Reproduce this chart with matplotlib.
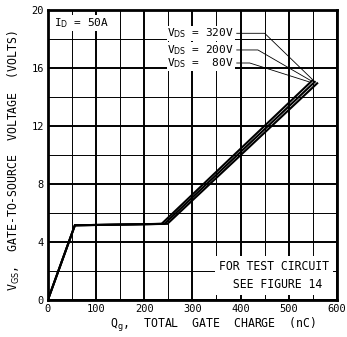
import matplotlib
matplotlib.use("Agg")
import matplotlib.pyplot as plt
from matplotlib.ticker import MultipleLocator

plt.rcParams['font.family'] = ['DejaVu Sans Mono']

# gate charge curves
vds_labels = ["320V", "200V", " 80V"]
qg_80 = [0, 56, 236, 549]
vgs_80 = [0, 5.15, 5.25, 15.15]
qg_200 = [0, 56, 242, 554]
vgs_200 = [0, 5.15, 5.25, 15.05]
qg_320 = [0, 56, 248, 559]
vgs_320 = [0, 5.15, 5.25, 14.95]

x_ticks = [0, 100, 200, 300, 400, 500, 600]
y_ticks = [0, 4, 8, 12, 16, 20]

fig = plt.figure(figsize=(3.47, 3.37), dpi=100)
ax = fig.add_axes([0.138, 0.110, 0.833, 0.860])
ax.set_xlim(0, 600)
ax.set_ylim(0, 20)

ax.set_xticks(x_ticks)
ax.set_yticks(y_ticks)
ax.xaxis.set_minor_locator(MultipleLocator(50))
ax.yaxis.set_minor_locator(MultipleLocator(2))
ax.tick_params(which='both', length=0, labelsize=7.5, pad=3)
ax.grid(which='major', color='black', lw=1.4)
ax.grid(which='minor', color='black', lw=0.7)
ax.set_axisbelow(True)
for s in ax.spines.values():
    s.set_linewidth(2)

for q, v in [(qg_80, vgs_80), (qg_200, vgs_200), (qg_320, vgs_320)]:
    ax.plot(q, v, color='black', lw=1.5, solid_joinstyle='miter', zorder=3)

ax.text(12, 19.6, "I$_\\mathrm{D}$ = 50A", fontsize=8, va='top', ha='left',
        bbox=dict(facecolor='white', edgecolor='none', pad=1))

# V_DS labels with leader lines to the curve ends
label_y = [18.4, 17.25, 16.35]
knee_x = [450, 436, 419]
tip = [(548, 15.25), (545, 15.15), (542, 15.05)]
for lab, yy, kx, (tx, ty) in zip(vds_labels, label_y, knee_x, tip):
    ax.text(386, yy, "V$_\\mathrm{DS}$ = " + lab, fontsize=8, ha='right', va='center',
            bbox=dict(facecolor='white', edgecolor='none', pad=0.5), zorder=4)
    ax.plot([392, kx, tx], [yy, yy, ty], color='black', lw=0.6, zorder=4)

ax.text(469, 1.7, "FOR TEST CIRCUIT\n SEE FIGURE 14", fontsize=8.3, ha='center',
        va='center', linespacing=1.45, zorder=4,
        bbox=dict(facecolor='white', edgecolor='none', boxstyle='square,pad=0.35'))

ax.set_xlabel("Q$_\\mathrm{g}$,  TOTAL  GATE  CHARGE  (nC)", fontsize=8.3)
ax.xaxis.set_label_coords(0.57, -0.055)
ax.set_ylabel("V$_\\mathrm{GS}$,  GATE-TO-SOURCE  VOLTAGE  (VOLTS)", fontsize=8.3)
ax.yaxis.set_label_coords(-0.09, 0.48)

fig.savefig("out.png", dpi=100)
